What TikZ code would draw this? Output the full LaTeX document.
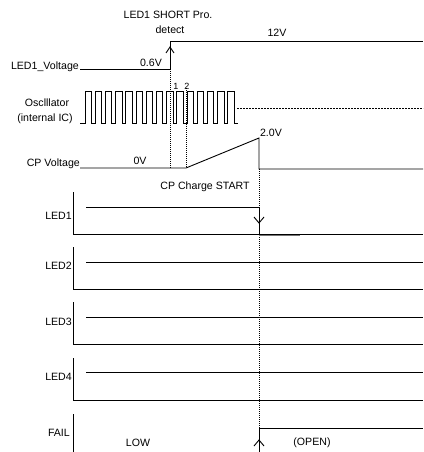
\documentclass[tikz,border=0pt]{standalone}
\usepackage{fontspec}
\setmainfont{Liberation Sans}
\begin{document}
\begin{tikzpicture}[x=1pt,y=-1pt,
  sig/.style={line width=0.9pt,line join=miter},
  dotv/.style={line width=0.9pt,dash pattern=on 1pt off 1pt},
  dashh/.style={line width=0.6pt,dash pattern=on 2pt off 1pt},
  lbl/.style={font=\fontsize{10.6}{12}\selectfont,inner sep=0pt},
  sml/.style={font=\fontsize{9}{10}\selectfont,inner sep=0pt}]
\useasboundingbox (0,0) rectangle (423,452);

% texts
\node[lbl] (t1) at (168,15) {LED1 SHORT Pro.};
\node[lbl] (t2) at (170,30) {detect};
\node[lbl,anchor=east] (lv) at (79,67) {LED1\_Voltage};
\node[lbl] (v06) at (151,63) {0.6V};
\node[lbl] (v12) at (277,33) {12V};
\node[lbl] (osc1) at (47,103) {Osclllator};
\node[lbl] (osc2) at (45,119) {(internal IC)};
\node[sml] (n1) at (176,86) {1};
\node[sml] (n2) at (187,86) {2};
\node[lbl,anchor=east] (cpl) at (80,164) {CP Voltage};
\node[lbl] (v0) at (140,161) {0V};
\node[lbl] (v20) at (271,133) {2.0V};
\node[lbl] (cps) at (205,187) {CP Charge START};
\node[lbl,anchor=east] (l1) at (72,216) {LED1};
\node[lbl,anchor=east] (l2) at (72,266) {LED2};
\node[lbl,anchor=east] (l3) at (72,322) {LED3};
\node[lbl,anchor=east] (l4) at (72,377) {LED4};
\node[lbl,anchor=east] (lf) at (70,433) {FAIL};
\node[lbl] (low) at (138,443) {LOW};
\node[lbl] (open) at (312,443) {(OPEN)};

% LED1 voltage
\draw[sig] (80,69) -- (170,69) -- (170,41) -- (423,41);
\draw[sig] (166,53) -- (170,47) -- (174,53);

% oscillator
\draw[sig] (80,123) -- (85,123)
  \foreach \k in {0,...,14} { -- ({85+10.2*\k},91) -- ({91.5+10.2*\k},91) -- ({91.5+10.2*\k},123) -- ({95.2+10.2*\k},123) };
\draw[dashh] (237,108) -- (423,108);

% dotted markers
\draw[dotv] (170,69) -- (170,168);
\draw[dotv] (186,88) -- (186,168);
\draw[dotv] (259,169) -- (259,452);

% CP voltage
\draw[sig] (80,168) -- (186,168) -- (259,138) -- (259,169) -- (423,169);

% LED panels
\draw[line width=1pt,black!55] (259,235) -- (300,235);
\foreach \b in {234,289,344,400} {
  \draw[sig] (73,\b-42) -- (73,\b) -- (423,\b);
}
\draw[sig] (86,207) -- (259,207) -- (259,234);
\draw[sig] (254,217) -- (259,223) -- (264,217);
\draw[sig] (86,262) -- (423,262);
\draw[sig] (86,317) -- (423,317);
\draw[sig] (86,372) -- (423,372);

% FAIL
\draw[sig] (73,414) -- (73,452);
\draw[sig] (259,452) -- (259,428) -- (423,428);
\draw[sig] (254,446) -- (259,440) -- (264,446);
\end{tikzpicture}
\end{document}
